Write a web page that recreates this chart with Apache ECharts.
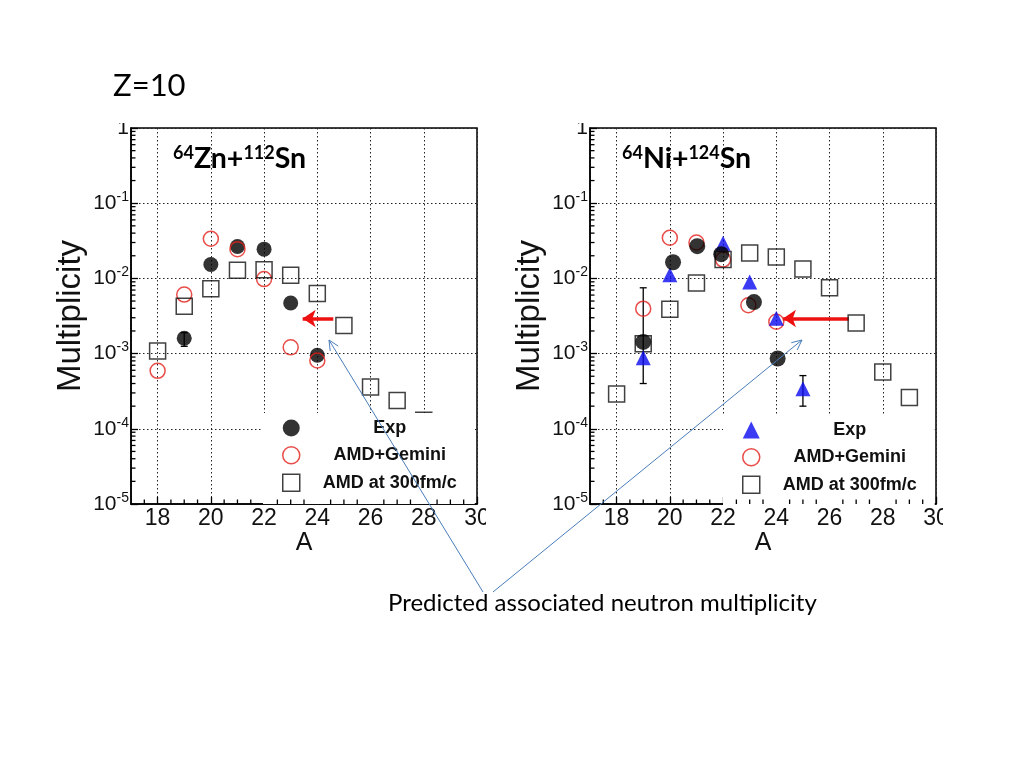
<!DOCTYPE html>
<html><head><meta charset="utf-8">
<script src="https://cdn.jsdelivr.net/npm/echarts@6/dist/echarts.min.js"></script>
<style>html,body{margin:0;padding:0;background:#fff}#c{width:1024px;height:768px}</style>
</head><body><div id="c"></div>
<script>
// ---- data: 64Zn+112Sn (left panel) ----
const znExpA = [19, 20, 21, 22, 23, 24];
const znExpM = [1.6e-3, 1.53e-2, 2.66e-2, 2.45e-2, 4.7e-3, 9.5e-4];
const znExpErr = [[19, 1.25e-3, 1.9e-3]];
const znGemA = [18, 19, 20, 21, 22, 23, 24];
const znGemM = [5.9e-4, 6.1e-3, 3.37e-2, 2.45e-2, 9.8e-3, 1.21e-3, 8.1e-4];
const znAmdA = [18, 19, 20, 21, 22, 23, 24, 25, 26, 27, 28];
const znAmdM = [1.08e-3, 4.27e-3, 7.3e-3, 1.28e-2, 1.3e-2, 1.1e-2, 6.3e-3, 2.37e-3, 3.6e-4, 2.37e-4, 1.3e-4];
const znArrow = [[24.6, 2.93e-3], [23.45, 2.93e-3]];

// ---- data: 64Ni+124Sn (right panel) ----
const niExpA = [19, 20, 22, 23, 24, 25];
const niExpM = [8.8e-4, 1.12e-2, 2.94e-2, 8.95e-3, 2.96e-3, 3.4e-4];
const niExpErr = [[19, 4.0e-4, 7.5e-3], [25, 2.0e-4, 5.1e-4]];
const niBlackA = [19, 20.12, 21.03, 21.93, 23.16, 24.05];
const niBlackM = [1.43e-3, 1.64e-2, 2.68e-2, 2.1e-2, 4.85e-3, 8.6e-4];
const niGemA = [19, 20, 21, 22, 22.95, 24];
const niGemM = [3.96e-3, 3.47e-2, 3.0e-2, 1.78e-2, 4.4e-3, 2.65e-3];
const niAmdA = [18, 19, 20, 21, 22, 23, 24, 25, 26, 27, 28, 29];
const niAmdM = [2.9e-4, 1.35e-3, 3.9e-3, 8.7e-3, 1.78e-2, 2.18e-2, 1.93e-2, 1.33e-2, 7.5e-3, 2.55e-3, 5.7e-4, 2.6e-4];
const niArrow = [[26.72, 2.93e-3], [24.25, 2.93e-3]];

// ---- axis ticks / labels ----
const xMin = 17, xMax = 30;
const yMin = 1e-5, yMax = 1;
const xMinorTicks = [17.5, 18.5, 19, 19.5, 20.5, 21, 21.5, 22.5, 23, 23.5, 24.5, 25, 25.5, 26.5, 27, 27.5, 28.5, 29, 29.5];
const yMinorMantissas = [2, 3, 4, 5, 6, 7, 8, 9];
const yDecades = [1e-5, 1e-4, 1e-3, 1e-2, 1e-1];
const legendLabels = ['Exp', 'AMD+Gemini', 'AMD at 300fm/c'];
const panelTitles = [['64', 'Zn+', '112', 'Sn'], ['64', 'Ni+', '124', 'Sn']];

const zip = (a, b) => a.map((v, i) => [v, b[i]]);
const yMinorTicks = [];
yDecades.forEach(d => yMinorMantissas.forEach(m => yMinorTicks.push(m * d)));

const AX = 'Liberation Sans';
const gridPos = [{left: 131, top: 128, width: 346, height: 376}, {left: 590, top: 128, width: 346, height: 376}];
const dotted = {color: '#222', type: [1.5, 2.5], width: 1};

const xAxes = gridPos.map((g, i) => ({
  type: 'value', gridIndex: i, position: 'bottom', min: xMin, max: xMax, splitNumber: 6,
  axisLine: {show: true, onZero: false, lineStyle: {color: '#000', width: 1.5}},
  axisTick: {show: true, inside: true, length: 7, lineStyle: {color: '#000', width: 1.3}},
  minorTick: {show: false},
  splitLine: {show: true, lineStyle: dotted},
  axisLabel: {showMinLabel: false, margin: 3, fontFamily: AX, fontSize: 23, color: '#111'},
  name: 'A', nameLocation: 'middle', nameGap: 22,
  nameTextStyle: {fontFamily: AX, fontSize: 25, color: '#111'}
}));

const yAxes = gridPos.map((g, i) => ({
  type: 'log', logBase: 10, gridIndex: i, position: 'left', min: yMin, max: yMax, splitNumber: 5,
  axisLine: {show: true, onZero: false, lineStyle: {color: '#000', width: 1.5}},
  axisTick: {show: true, inside: true, length: 7, lineStyle: {color: '#000', width: 1.3}},
  splitLine: {show: true, lineStyle: dotted},
  axisLabel: {
    margin: 2,
    formatter: v => { const e = Math.round(Math.log10(v)); return e === 0 ? '{b|1}' : '{b|10}{s|' + e + '}'; },
    rich: {
      b: {fontFamily: AX, fontSize: 21, color: '#111'},
      s: {fontFamily: AX, fontSize: 14, color: '#111', padding: [0, 0, 12, 0]}
    }
  },
  name: 'Multiplicity', nameLocation: 'middle', nameGap: 44,
  nameTextStyle: {fontFamily: AX, fontSize: 33, color: '#111'}
}));

const errSeries = (i, data, color) => ({
  type: 'custom', xAxisIndex: i, yAxisIndex: i, silent: true, clip: false,
  data: data,
  encode: {x: 0, y: [1, 2]},
  renderItem: (p, api) => {
    const lo = api.coord([api.value(0), api.value(1)]);
    const hi = api.coord([api.value(0), api.value(2)]);
    const s = {stroke: color, lineWidth: 1.3};
    return {type: 'group', children: [
      {type: 'line', shape: {x1: lo[0], y1: lo[1], x2: hi[0], y2: hi[1]}, style: s},
      {type: 'line', shape: {x1: lo[0] - 3.5, y1: lo[1], x2: lo[0] + 3.5, y2: lo[1]}, style: s},
      {type: 'line', shape: {x1: hi[0] - 3.5, y1: hi[1], x2: hi[0] + 3.5, y2: hi[1]}, style: s}
    ]};
  }
});
const hollowRed = {color: 'rgba(255,255,255,0)', borderColor: '#e3211c', borderWidth: 1.5};
const hollowSq = {color: 'rgba(255,255,255,0)', borderColor: '#111', borderWidth: 1.5};
const arrowSeries = (i, coords) => ({
  type: 'lines', coordinateSystem: 'cartesian2d', xAxisIndex: i, yAxisIndex: i, silent: true,
  symbol: ['none', 'arrow'], symbolSize: 13,
  lineStyle: {color: '#ee1111', width: 3.5, opacity: 1},
  data: [{coords: coords}]
});

const series = [
  // left
  errSeries(0, znExpErr, '#000'),
  {type: 'scatter', name: 'Exp|Zn', xAxisIndex: 0, yAxisIndex: 0, symbol: 'circle', symbolSize: 15, itemStyle: {color: '#000'}, data: zip(znExpA, znExpM)},
  {type: 'scatter', name: 'AMD+Gemini|Zn', xAxisIndex: 0, yAxisIndex: 0, symbol: 'circle', symbolSize: 15, itemStyle: hollowRed, data: zip(znGemA, znGemM)},
  {type: 'scatter', name: 'AMD at 300fm/c|Zn', xAxisIndex: 0, yAxisIndex: 0, symbol: 'rect', symbolSize: 16, itemStyle: hollowSq, data: zip(znAmdA, znAmdM)},
  arrowSeries(0, znArrow),
  // right
  {type: 'scatter', name: 'AMD+Gemini|Ni', xAxisIndex: 1, yAxisIndex: 1, symbol: 'circle', symbolSize: 15, itemStyle: hollowRed, data: zip(niGemA, niGemM)},
  {type: 'scatter', name: 'AMD at 300fm/c|Ni', xAxisIndex: 1, yAxisIndex: 1, symbol: 'rect', symbolSize: 16, itemStyle: hollowSq, data: zip(niAmdA, niAmdM)},
  errSeries(1, niExpErr, '#000'),
  {type: 'scatter', name: 'Exp|Ni', xAxisIndex: 1, yAxisIndex: 1, symbol: 'triangle', symbolSize: 15, itemStyle: {color: '#0a0af0'}, data: zip(niExpA, niExpM)},
  {type: 'scatter', name: 'Exp2|Ni', xAxisIndex: 1, yAxisIndex: 1, symbol: 'circle', symbolSize: 16, itemStyle: {color: '#000'}, data: zip(niBlackA, niBlackM)},
  arrowSeries(1, niArrow)
];

const legendOf = (tag, left, top) => ({
  orient: 'vertical', left: left, top: top, selectedMode: false,
  data: legendLabels.map(l => l + '|' + tag),
  backgroundColor: '#fff', padding: [6, 0, 12, 19], itemGap: 9, itemWidth: 17, itemHeight: 17,
  itemStyle: {borderWidth: 1.5},
  formatter: n => '{t|' + n.split('|')[0] + '}',
  textStyle: {rich: {t: {width: 170, align: 'center', fontFamily: AX, fontWeight: 'bold', fontSize: 18, lineHeight: 17, color: '#111'}}}
});

const titleRich = {
  s: {fontFamily: 'Lato', fontWeight: 'bold', fontSize: 18, color: '#000', padding: [0, 0, 12, 0]},
  m: {fontFamily: 'Lato', fontWeight: 'bold', fontSize: 28.5, color: '#000'}
};
const titleText = t => '{s|' + t[0] + '}{m|' + t[1] + '}{s|' + t[2] + '}{m|' + t[3] + '}';

const staticGraphics = [
  // image crop edges of the original slide
  {type: 'rect', z: 50, shape: {x: 100, y: 104, width: 400, height: 19}, style: {fill: '#fff'}},
  {type: 'rect', z: 50, shape: {x: 540, y: 104, width: 420, height: 19}, style: {fill: '#fff'}},
  {type: 'rect', z: 50, shape: {x: 486, y: 500, width: 50, height: 40}, style: {fill: '#fff'}},
  {type: 'rect', z: 50, shape: {x: 943, y: 500, width: 60, height: 40}, style: {fill: '#fff'}},
  // annotation callout
  {type: 'line', z: 100, shape: {x1: 483, y1: 592, x2: 329, y2: 340}, style: {stroke: '#4a7ebb', lineWidth: 1}},
  {type: 'polyline', z: 100, shape: {points: [[330.2, 350.9], [329, 340], [338.2, 346.1]]}, style: {stroke: '#4a7ebb', lineWidth: 1, fill: null}},
  {type: 'line', z: 100, shape: {x1: 493, y1: 592, x2: 802, y2: 340}, style: {stroke: '#4a7ebb', lineWidth: 1}},
  {type: 'polyline', z: 100, shape: {points: [[791.3, 342.7], [802, 340], [797.2, 349.9]]}, style: {stroke: '#4a7ebb', lineWidth: 1, fill: null}},
  {type: 'text', z: 100, left: 388, top: 591, style: {text: 'Predicted associated neutron multiplicity', font: '24px Lato', fill: '#000'}}
];

const chart = echarts.init(document.getElementById('c'), null, {renderer: 'canvas'});
chart.setOption({
  animation: false,
  backgroundColor: '#fff',
  title: [
    {text: 'Z=10', left: 108, top: 65, textStyle: {fontFamily: 'Lato', fontWeight: 'normal', fontSize: 31, color: '#000'}},
    {text: titleText(panelTitles[0]), left: 168, top: 139, textStyle: {rich: titleRich}},
    {text: titleText(panelTitles[1]), left: 617, top: 139, textStyle: {rich: titleRich}}
  ],
  grid: gridPos.map(g => Object.assign({show: true, borderColor: '#000', borderWidth: 1.5, backgroundColor: 'transparent'}, g)),
  xAxis: xAxes,
  yAxis: yAxes,
  legend: [legendOf('Zn', 263, 413), legendOf('Ni', 723, 415)],
  series: series
});

// minor ticks (log decades 2..9 on y, half units on x), placed through the axes' own scales
const tickGraphics = [];
[0, 1].forEach(i => {
  const finder = {xAxisIndex: i, yAxisIndex: i};
  yMinorTicks.forEach(v => {
    const p = chart.convertToPixel(finder, [xMin, v]);
    tickGraphics.push({type: 'line', z: 20, silent: true,
      shape: {x1: p[0], y1: p[1], x2: p[0] + 4.5, y2: p[1]}, style: {stroke: '#000', lineWidth: 1.3}});
  });
  xMinorTicks.forEach(x => {
    const p = chart.convertToPixel(finder, [x, yMin]);
    tickGraphics.push({type: 'line', z: 20, silent: true,
      shape: {x1: p[0], y1: p[1], x2: p[0], y2: p[1] - 4.5}, style: {stroke: '#000', lineWidth: 1.3}});
  });
});
chart.setOption({graphic: staticGraphics.concat(tickGraphics)});
</script></body></html>
